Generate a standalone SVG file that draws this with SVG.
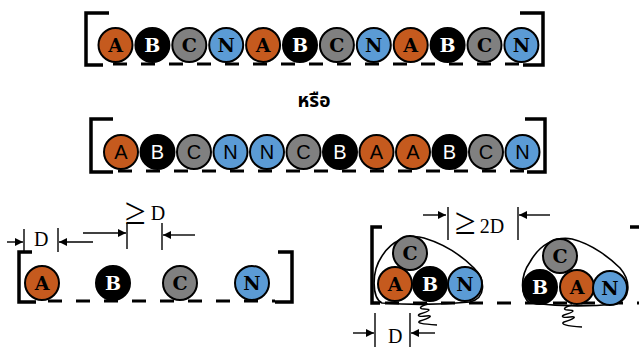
<svg xmlns="http://www.w3.org/2000/svg" width="639" height="347" viewBox="0 0 639 347">
<defs>
<style>
.br{fill:none;stroke:#000;stroke-width:3.5;stroke-linecap:butt}
.dash{fill:none;stroke:#000;stroke-width:3;stroke-dasharray:14 14}
.c{stroke:#000;stroke-width:2}
.a{fill:#C55A1E}.b{fill:#000}.g{fill:#808080}.n{fill:#5B9BD5}
.t{font-family:"DejaVu Serif",serif;font-weight:bold;font-size:19px;text-anchor:middle;fill:#000}
.s{font-family:"Liberation Sans",Arial,sans-serif;font-size:20px;text-anchor:middle;fill:#000}
.w{fill:#fff}
.dim{fill:none;stroke:#000;stroke-width:1.4}
.dt{font-family:"Liberation Serif","Times New Roman",serif;font-size:20px;fill:#000}
.ge{font-family:"Liberation Serif","DejaVu Serif",serif;font-size:38px;fill:#000}
.blob{fill:none;stroke:#000;stroke-width:1.6}
</style>
<marker id="ah" viewBox="0 0 10 10" refX="10" refY="5" markerWidth="9" markerHeight="8" markerUnits="userSpaceOnUse" orient="auto">
<path d="M0,0 L10,5 L0,10 Z" fill="#000"/>
</marker>
</defs>
<rect width="639" height="347" fill="#fff"/>

<g id="row1">
<path class="br" d="M109,13 H86 V65 H103"/>
<path class="br" d="M520,13 H543 V65 H523"/>
<line class="dash" x1="113" y1="64" x2="520" y2="64"/>
<g id="r1-1"><circle class="c a" cx="115.5" cy="45" r="17"/><text class="t" x="115.5" y="52">A</text></g>
<g id="r1-2"><circle class="c b" cx="152.4" cy="45" r="17"/><text class="t w" x="152.4" y="52">B</text></g>
<g id="r1-3"><circle class="c g" cx="189.3" cy="45" r="17"/><text class="t" x="189.3" y="52">C</text></g>
<g id="r1-4"><circle class="c n" cx="226.2" cy="45" r="17"/><text class="t" x="226.2" y="52">N</text></g>
<g id="r1-5"><circle class="c a" cx="263.1" cy="45" r="17"/><text class="t" x="263.1" y="52">A</text></g>
<g id="r1-6"><circle class="c b" cx="300" cy="45" r="17"/><text class="t w" x="300" y="52">B</text></g>
<g id="r1-7"><circle class="c g" cx="336.9" cy="45" r="17"/><text class="t" x="336.9" y="52">C</text></g>
<g id="r1-8"><circle class="c n" cx="373.8" cy="45" r="17"/><text class="t" x="373.8" y="52">N</text></g>
<g id="r1-9"><circle class="c a" cx="410.7" cy="45" r="17"/><text class="t" x="410.7" y="52">A</text></g>
<g id="r1-10"><circle class="c b" cx="447.6" cy="45" r="17"/><text class="t w" x="447.6" y="52">B</text></g>
<g id="r1-11"><circle class="c g" cx="484.5" cy="45" r="17"/><text class="t" x="484.5" y="52">C</text></g>
<g id="r1-12"><circle class="c n" cx="521.4" cy="45" r="17"/><text class="t" x="521.4" y="52">N</text></g>
</g>

<g id="or"><text x="314" y="107" font-family="'Noto Sans Thai','Noto Sans','DejaVu Sans',sans-serif" font-weight="bold" font-size="19" text-anchor="middle">หรือ</text></g>

<g id="row2">
<path class="br" d="M113,119 H91 V172 H113"/>
<path class="br" d="M525,119 H545 V172 H527"/>
<line class="dash" x1="118" y1="171" x2="525" y2="171"/>
<g id="r2-1"><circle class="c a" cx="121" cy="152" r="17"/><text class="s" x="121" y="159">A</text></g>
<g id="r2-2"><circle class="c b" cx="157.5" cy="152" r="17"/><text class="s w" x="157.5" y="159">B</text></g>
<g id="r2-3"><circle class="c g" cx="194" cy="152" r="17"/><text class="s" x="194" y="159">C</text></g>
<g id="r2-4"><circle class="c n" cx="230.5" cy="152" r="17"/><text class="s" x="230.5" y="159">N</text></g>
<g id="r2-5"><circle class="c n" cx="267" cy="152" r="17"/><text class="s" x="267" y="159">N</text></g>
<g id="r2-6"><circle class="c g" cx="303.5" cy="152" r="17"/><text class="s" x="303.5" y="159">C</text></g>
<g id="r2-7"><circle class="c b" cx="340" cy="152" r="17"/><text class="s w" x="340" y="159">B</text></g>
<g id="r2-8"><circle class="c a" cx="376.5" cy="152" r="17"/><text class="s" x="376.5" y="159">A</text></g>
<g id="r2-9"><circle class="c a" cx="413" cy="152" r="17"/><text class="s" x="413" y="159">A</text></g>
<g id="r2-10"><circle class="c b" cx="449.5" cy="152" r="17"/><text class="s w" x="449.5" y="159">B</text></g>
<g id="r2-11"><circle class="c g" cx="486" cy="152" r="17"/><text class="s" x="486" y="159">C</text></g>
<g id="r2-12"><circle class="c n" cx="522.5" cy="152" r="17"/><text class="s" x="522.5" y="159">N</text></g>
</g>

<g id="spaced">
<path class="br" d="M32,252 H19 V302 H36"/>
<path class="br" d="M278,252 H292 V302 H275"/>
<line class="dash" x1="48" y1="301" x2="275" y2="301"/>
<g id="s-A"><circle class="c a" cx="42" cy="283" r="17"/><text class="t" x="42" y="290">A</text></g>
<g id="s-B"><circle class="c b" cx="113" cy="283" r="17"/><text class="t w" x="113" y="290">B</text></g>
<g id="s-C"><circle class="c g" cx="180" cy="283" r="17"/><text class="t" x="180" y="290">C</text></g>
<g id="s-N"><circle class="c n" cx="252" cy="283" r="17"/><text class="t" x="252" y="290">N</text></g>
</g>

<g id="clustered">
<path class="br" d="M382,227 H372 V303 H380"/>
<path class="br" d="M630,227 H645"/>
<line class="dash" x1="385" y1="303" x2="639" y2="303"/>
<g id="cl1">
<path class="blob" d="M382,303 C372,298 371,272 382,256 C392,240 408,234 424,238 C444,244 462,256 474,268 C486,280 486,298 470,302 C440,305 410,305 382,303 Z"/>
<g id="cl1-C"><circle class="c g" cx="410" cy="253" r="17"/><text class="t" x="410" y="260">C</text></g>
<g id="cl1-A"><circle class="c a" cx="395" cy="284" r="17"/><text class="t" x="395" y="291">A</text></g>
<g id="cl1-B"><circle class="c b" cx="430" cy="284" r="17"/><text class="t w" x="430" y="291">B</text></g>
<g id="cl1-N"><circle class="c n" cx="465" cy="284" r="17"/><text class="t" x="465" y="291">N</text></g>
<path class="dim" d="M428,304 C420,306 418,309 424,309 C432,309 430,311 420,314 C416,316 420,317 426,316 C434,315 430,318 420,321 C416,323 422,324 437,325"/>
</g>
<g id="cl2">
<path class="blob" d="M530,303 C520,296 520,276 530,262 C540,244 556,236 572,239 C592,244 610,258 620,268 C632,282 630,300 616,304 C585,307 555,306 530,303 Z"/>
<g id="cl2-C"><circle class="c g" cx="560" cy="256" r="17"/><text class="t" x="560" y="263">C</text></g>
<g id="cl2-B"><circle class="c b" cx="540" cy="287" r="17"/><text class="t w" x="540" y="294">B</text></g>
<g id="cl2-A"><circle class="c a" cx="577" cy="287" r="17"/><text class="t" x="577" y="294">A</text></g>
<g id="cl2-N"><circle class="c n" cx="610" cy="288" r="17"/><text class="t" x="610" y="295">N</text></g>
<path class="dim" d="M572,305 C564,307 562,310 568,310 C576,310 574,312 564,315 C560,317 564,318 570,317 C578,316 574,319 564,322 C560,324 566,326 582,327"/>
</g>
</g>

<g id="connectors">
<line class="dim" x1="7" y1="242" x2="23" y2="242" marker-end="url(#ah)"/>
<line class="dim" x1="24" y1="229" x2="24" y2="251"/>
<line class="dim" x1="58" y1="228" x2="58" y2="252"/>
<line class="dim" x1="93" y1="242" x2="59" y2="242" marker-end="url(#ah)"/>
<line class="dim" x1="83" y1="233" x2="126" y2="233" marker-end="url(#ah)"/>
<line class="dim" x1="127" y1="223" x2="127" y2="249"/>
<line class="dim" x1="162" y1="223" x2="162" y2="250"/>
<line class="dim" x1="195" y1="235" x2="163" y2="235" marker-end="url(#ah)"/>
<line class="dim" x1="423" y1="215" x2="446" y2="215" marker-end="url(#ah)"/>
<line class="dim" x1="448" y1="207" x2="448" y2="240"/>
<line class="dim" x1="518" y1="207" x2="518" y2="240"/>
<line class="dim" x1="550" y1="215" x2="519" y2="215" marker-end="url(#ah)"/>
<line class="dim" x1="353" y1="333" x2="374" y2="333" marker-end="url(#ah)"/>
<line class="dim" x1="375" y1="313" x2="375" y2="347"/>
<line class="dim" x1="410" y1="313" x2="410" y2="347"/>
<line class="dim" x1="435" y1="333" x2="411" y2="333" marker-end="url(#ah)"/>
</g>

<g id="labels">
<text class="dt" x="34" y="246">D</text>
<text class="ge" x="125" y="224">≥<tspan class="dt" dx="5" dy="-4">D</tspan></text>
<text class="ge" x="455" y="234">≥<tspan class="dt" dx="4" dy="-1">2D</tspan></text>
<text class="dt" x="388" y="343">D</text>
</g>
</svg>
